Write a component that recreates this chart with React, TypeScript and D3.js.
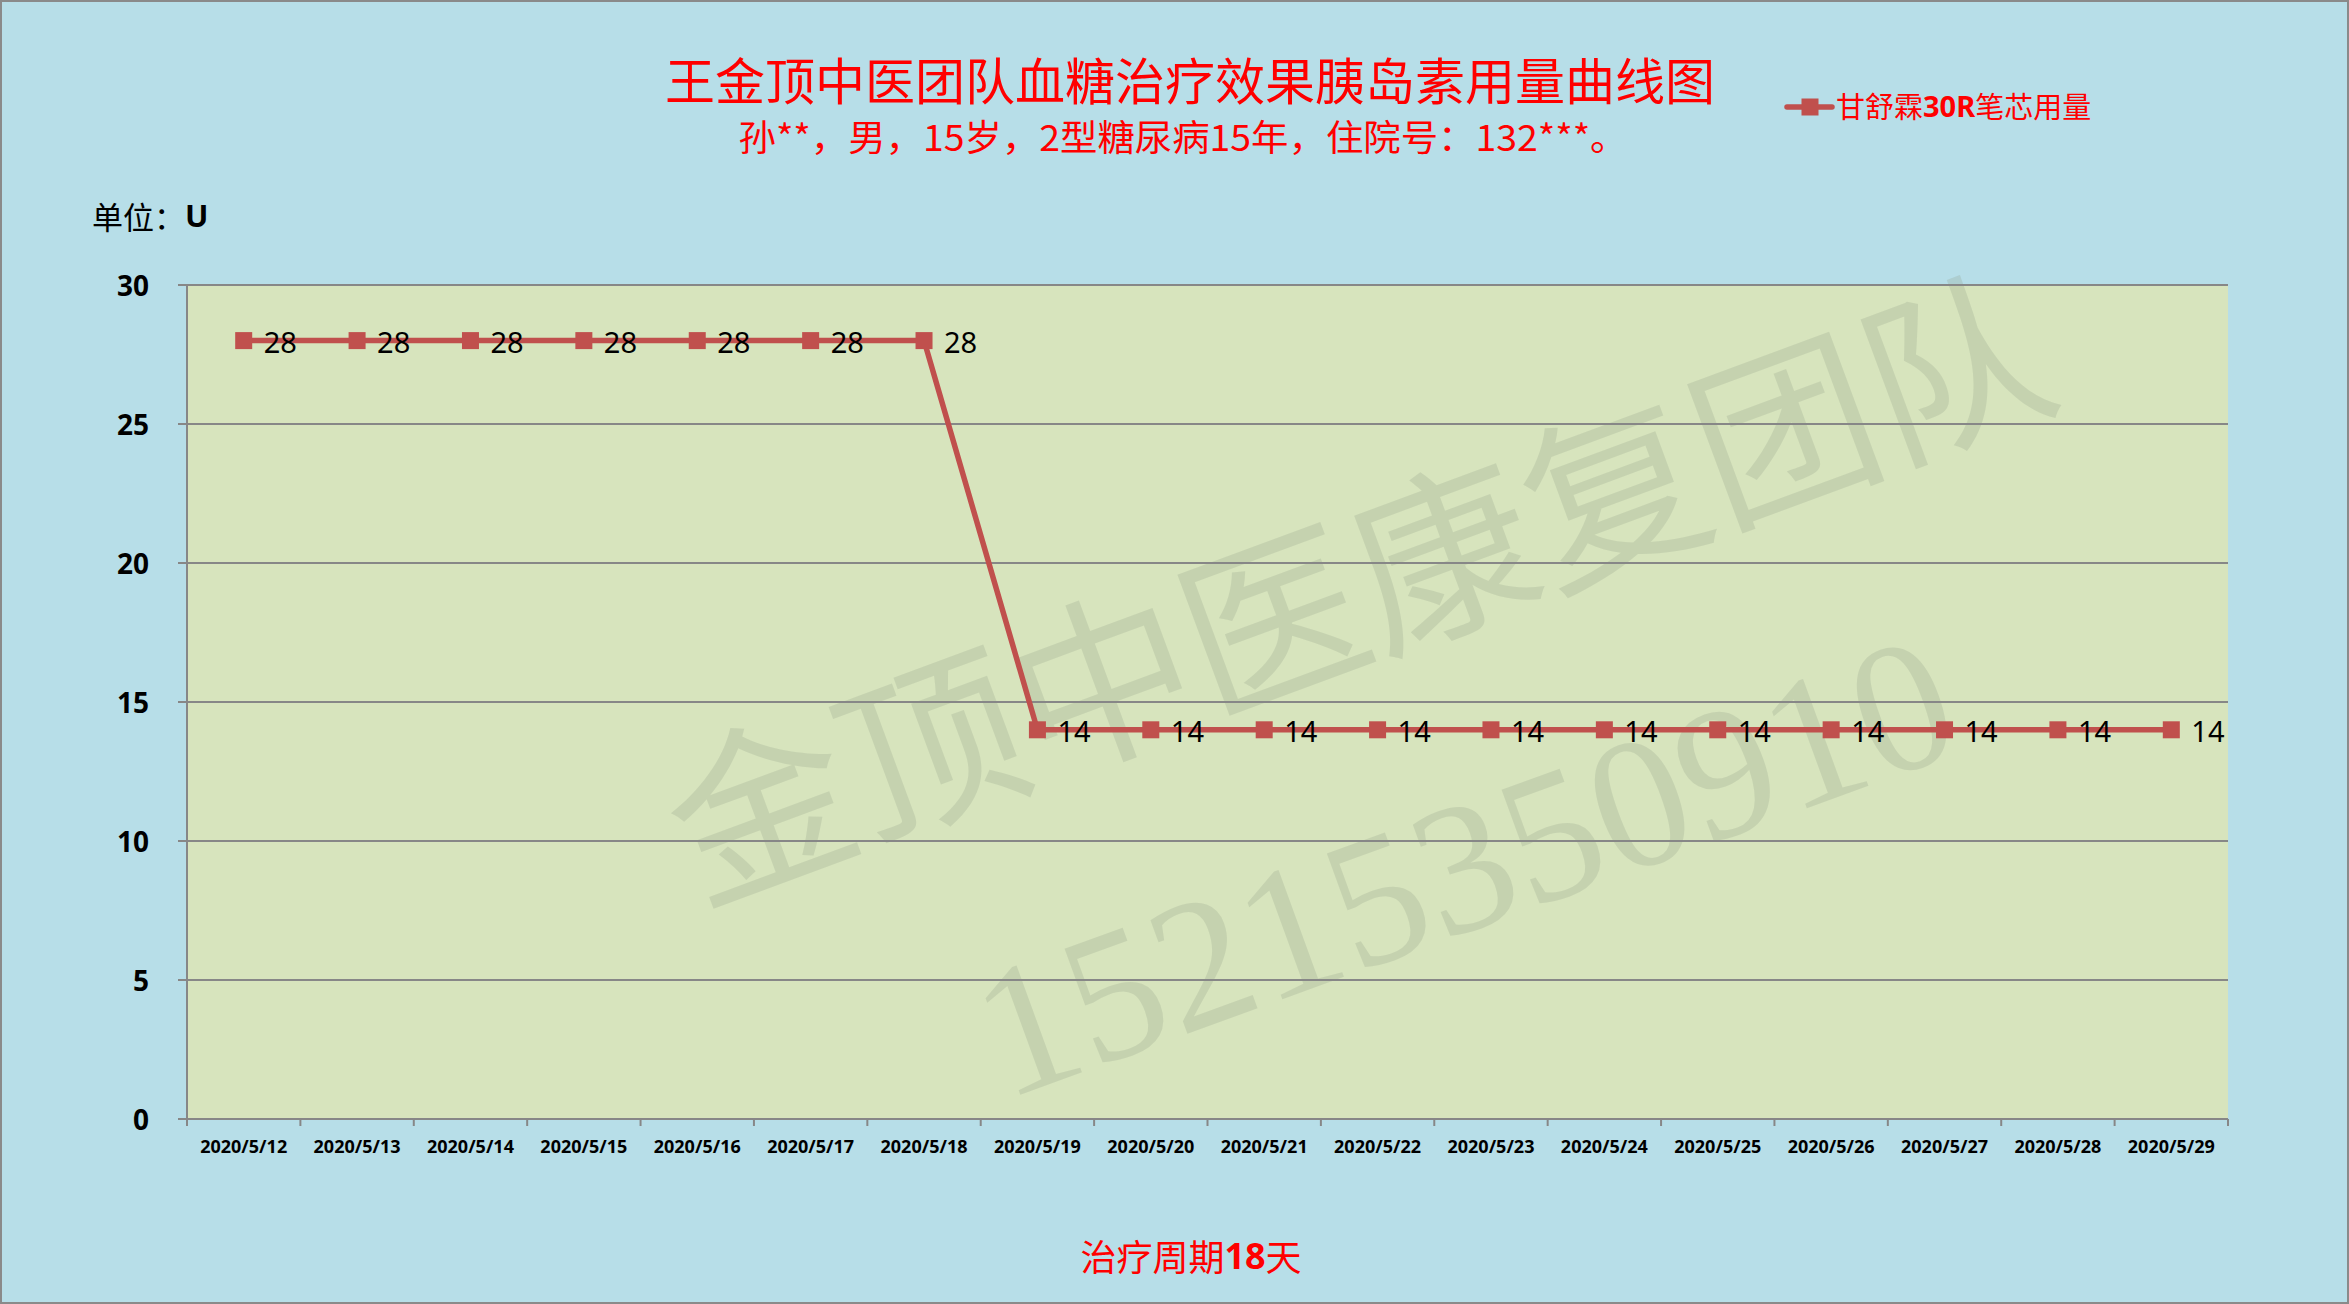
import React from "react";
import * as d3 from "d3";

const categories = [
  "2020/5/12", "2020/5/13", "2020/5/14", "2020/5/15", "2020/5/16", "2020/5/17",
  "2020/5/18", "2020/5/19", "2020/5/20", "2020/5/21", "2020/5/22", "2020/5/23",
  "2020/5/24", "2020/5/25", "2020/5/26", "2020/5/27", "2020/5/28", "2020/5/29",
];
const insulinDose = [28, 28, 28, 28, 28, 28, 28, 14, 14, 14, 14, 14, 14, 14, 14, 14, 14, 14];
const yTicks = [0, 5, 10, 15, 20, 25, 30];
const seriesName = ["甘舒霖", "30R", "笔芯用量"];
const titleText = "王金顶中医团队血糖治疗效果胰岛素用量曲线图";
const subtitleText = "孙**，男，15岁，2型糖尿病15年，住院号：132***。";
const watermarkText = "金顶中医康复团队";
const watermarkPhone = "15215350910";

const W = 2349;
const H = 1304;
const plot = { left: 187, right: 2228, top: 285, bottom: 1119 };
const CJK = "'Noto Sans CJK SC', 'Noto Sans', sans-serif";
const LAT = "'Noto Sans', 'Open Sans', sans-serif";
const RED = "#FF0000";
const LINE = "#C0504D";
const GRID = "#878787";

export default function App() {
  const x = d3.scaleBand<string>().domain(categories).range([plot.left, plot.right]);
  const y = d3.scaleLinear().domain([0, 30]).range([plot.bottom, plot.top]);
  const cx = (c: string) => (x(c) as number) + x.bandwidth() / 2;
  const line = d3
    .line<number>()
    .x((_, i) => cx(categories[i]))
    .y((d) => y(d));
  const boundaries = categories.map((c) => x(c) as number).concat([plot.right]);

  return (
    <svg
      width={W}
      height={H}
      style={{ position: "absolute", left: 0, top: 0, display: "block" }}
    >
      <rect x={1} y={1} width={W - 2} height={H - 2} fill="#B7DEE8" stroke="#8A8A8A" strokeWidth={2} />
      <rect
        x={plot.left}
        y={plot.top}
        width={plot.right - plot.left}
        height={plot.bottom - plot.top}
        fill="#D7E4BD"
      />

      {/* watermark */}
      <g fill="#8E9A86" fillOpacity={0.24}>
        <text
          transform="translate(1354,577) rotate(-20.3)"
          textAnchor="middle"
          dominantBaseline="central"
          fontFamily={CJK}
          fontSize={182}
        >
          {watermarkText}
        </text>
        <text
          transform="translate(1464,866) rotate(-20)"
          textAnchor="middle"
          dominantBaseline="central"
          fontFamily="'Liberation Serif', 'DejaVu Serif', serif"
          fontSize={186}
        >
          {watermarkPhone}
        </text>
      </g>

      {/* gridlines */}
      {yTicks.filter((t) => t > 0).map((t) => (
        <line key={t} x1={plot.left} x2={plot.right} y1={y(t)} y2={y(t)} stroke={GRID} strokeWidth={2} />
      ))}
      {/* y axis */}
      <line x1={plot.left} x2={plot.left} y1={plot.top} y2={plot.bottom} stroke={GRID} strokeWidth={2} />
      {yTicks.map((t) => (
        <g key={t}>
          <line x1={plot.left - 9} x2={plot.left} y1={y(t)} y2={y(t)} stroke={GRID} strokeWidth={2} />
          <text
            x={149}
            y={y(t)}
            textAnchor="end"
            dominantBaseline="central"
            fontFamily={LAT}
            fontWeight="bold"
            fontSize={28}
            fill="#000"
          >
            {t}
          </text>
        </g>
      ))}
      {/* x axis */}
      <line x1={plot.left - 9} x2={plot.right} y1={plot.bottom} y2={plot.bottom} stroke={GRID} strokeWidth={2} />
      {boundaries.map((b, i) => (
        <line key={i} x1={b} x2={b} y1={plot.bottom} y2={plot.bottom + 7} stroke={GRID} strokeWidth={2} />
      ))}
      {categories.map((c) => (
        <text
          key={c}
          x={cx(c)}
          y={1146}
          textAnchor="middle"
          dominantBaseline="central"
          fontFamily={LAT}
          fontWeight="bold"
          fontSize={18}
          fill="#000"
        >
          {c}
        </text>
      ))}

      {/* series */}
      <path d={line(insulinDose) || ""} fill="none" stroke={LINE} strokeWidth={5.5} strokeLinejoin="round" />
      {insulinDose.map((v, i) => (
        <rect key={i} x={cx(categories[i]) - 8.5} y={y(v) - 8.5} width={17} height={17} fill={LINE} />
      ))}
      {insulinDose.map((v, i) => (
        <text
          key={"l" + i}
          x={cx(categories[i]) + 20}
          y={y(v) + 1}
          dominantBaseline="central"
          fontFamily={LAT}
          fontSize={29}
          fill="#000"
        >
          {v}
        </text>
      ))}

      {/* titles */}
      <text x={1190} y={78} textAnchor="middle" dominantBaseline="central" fontFamily={CJK} fontSize={50} fill={RED}>
        {titleText}
      </text>
      <text
        x={1183}
        y={135}
        textAnchor="middle"
        dominantBaseline="central"
        fontFamily={CJK}
        fontSize={36}
        fill={RED}
        textLength={889}
        lengthAdjust="spacingAndGlyphs"
      >
        {subtitleText}
      </text>

      {/* unit */}
      <text x={92} y={215} dominantBaseline="central" fontFamily={CJK} fontSize={31} fill="#000">
        单位：<tspan fontFamily={LAT} fontWeight="bold">U</tspan>
      </text>

      {/* legend */}
      <line x1={1787} x2={1832} y1={107} y2={107} stroke={LINE} strokeWidth={5.5} strokeLinecap="round" />
      <rect x={1801.5} y={98.5} width={17} height={17} fill={LINE} />
      <text x={1836} y={105} dominantBaseline="central" fontFamily={CJK} fontSize={29} fill={RED}>
        {seriesName[0]}
        <tspan fontFamily={LAT} fontWeight="bold">{seriesName[1]}</tspan>
        {seriesName[2]}
      </text>

      {/* bottom caption */}
      <text x={1191} y={1255} textAnchor="middle" dominantBaseline="central" fontFamily={CJK} fontSize={36} fill={RED}>
        治疗周期<tspan fontFamily={LAT} fontWeight="bold">18</tspan>天
      </text>
    </svg>
  );
}
